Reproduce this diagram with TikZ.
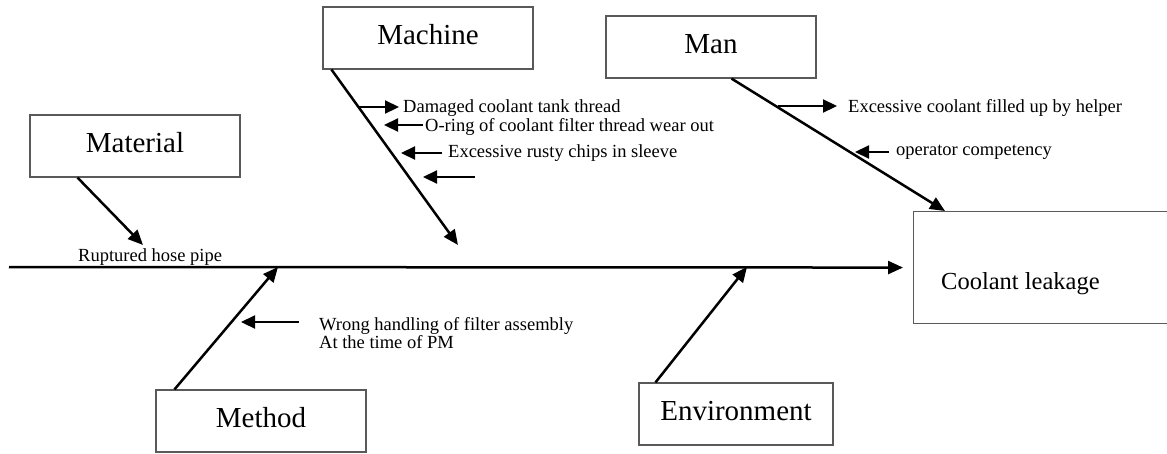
\documentclass[tikz,border=0pt]{standalone}
\usepackage{fontspec}
\setmainfont{Liberation Serif}
\usetikzlibrary{arrows.meta,calc}

\begin{document}
\begin{tikzpicture}[x=1pt,y=-1pt,
  catbox/.style={draw=black!65, line width=1.1pt, minimum width=210pt, minimum height=62pt,
    inner sep=0pt, font=\fontsize{29}{34}\selectfont, text height=20pt, text depth=8pt},
  bone/.style={line width=2.5pt, -{Triangle[length=15pt,width=13pt]}},
  twig/.style={line width=2.2pt, -{Triangle[length=14pt,width=13pt]}},
  cause/.style={anchor=base west, inner sep=0pt, font=\fontsize{18.5}{17}\selectfont},
]
\useasboundingbox (0,0) rectangle (1167,453);
\clip (0,0) rectangle (1167,453);

% category boxes
\node[catbox] (machine) at (428,38) {Machine};
\node[catbox] (man) at (711,47) {Man};
\node[catbox] (material) at (135,146) {Material};
\node[catbox] (method) at (261,421) {Method};
\node[catbox, minimum width=194pt] (environment) at (736,414) {Environment};

% effect box (runs off the right edge)
\node[draw=black!65, line width=1.1pt, minimum width=320pt, minimum height=112pt,
  anchor=north west, inner sep=0pt] (effect) at (913,211) {};
\node[cause, font=\fontsize{24.5}{28}\selectfont] (effectlabel) at (941,289) {Coolant leakage};

% spine
\coordinate (tail) at (9,267);
\draw[bone] (tail) -- ($(effect.west)+(-10,0)$);

% main bones
\coordinate (machineend) at (458,245);
\draw[bone] ($(machine.south west)+(9,0)$) -- (machineend);
\draw[bone] ($(man.south west)+(126,0)$) -- ($(effect.north west)+(32,0)$);
\coordinate (materialend) at (143,245);
\draw[bone] ($(material.south west)+(48,0)$) -- (materialend);
\coordinate (methodend) at (278,267);
\draw[bone] ($(method.north west)+(19,0)$) -- (methodend);
\coordinate (environmentend) at (747,267);
\draw[bone] ($(environment.north west)+(17,0)$) -- (environmentend);

% machine causes
\coordinate (ma1) at (358,107); \coordinate (mb1) at (399,107);
\draw[twig] (ma1) -- (mb1);
\node[cause] (mt1) at (403,112) {Damaged coolant tank thread};
\coordinate (ma2) at (423,125); \coordinate (mb2) at (384,125);
\draw[twig] (ma2) -- (mb2);
\node[cause] (mt2) at (425,131) {O-ring of coolant filter thread wear out};
\coordinate (ma3) at (442,153); \coordinate (mb3) at (401,153);
\draw[twig] (ma3) -- (mb3);
\node[cause] (mt3) at (448,157) {Excessive rusty chips in sleeve};
\coordinate (ma4) at (475,177); \coordinate (mb4) at (423,177);
\draw[twig] (ma4) -- (mb4);

% man causes
\coordinate (na1) at (778,106); \coordinate (nb1) at (837,106);
\draw[twig] (na1) -- (nb1);
\node[cause] (nt1) at (848,112) {Excessive coolant filled up by helper};
\coordinate (na2) at (889,152); \coordinate (nb2) at (855,152);
\draw[twig] (na2) -- (nb2);
\node[cause] (nt2) at (896,155) {operator competency};

% method cause
\coordinate (ta1) at (299,322); \coordinate (tb1) at (241,322);
\draw[twig] (ta1) -- (tb1);
\node[cause] (tt1) at (319,330) {Wrong handling of filter assembly};
\node[cause] (tt2) at (319,348) {At the time of PM};

% material cause
\node[cause] (rt1) at (78,261) {Ruptured hose pipe};
\end{tikzpicture}
\end{document}
